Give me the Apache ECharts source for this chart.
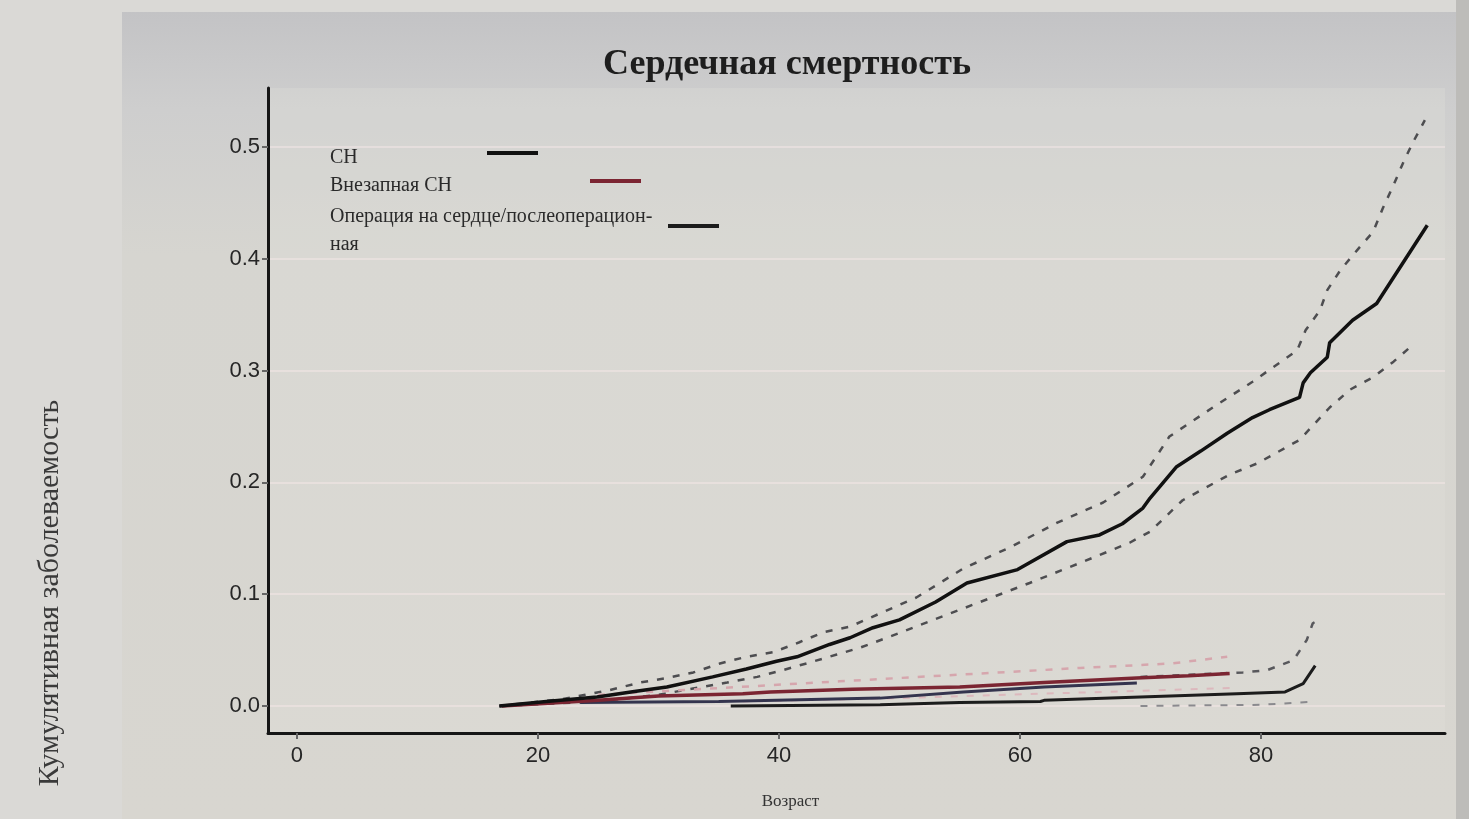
<!DOCTYPE html>
<html>
<head>
<meta charset="utf-8">
<script src="https://cdn.jsdelivr.net/npm/echarts@6/dist/echarts.min.js"></script>
<style>
html,body{margin:0;padding:0;background:#dad9d6;}
#chart{width:1469px;height:819px;}
</style>
</head>
<body>
<div id="chart"></div>
<script>
// ---- data ----
var xTicks = [0, 20, 40, 60, 80];
var yTicks = [0, 0.1, 0.2, 0.3, 0.4, 0.5];

var chAge = [16.8, 20.7, 24.9, 28, 30.7, 34.5, 37.3, 39.8, 41.5, 44.2, 45.9, 47.8, 50.0, 53, 55.6, 59.8, 63.9, 66.6, 68.5, 70.2, 70.8, 73.0, 75, 77.2, 79.3, 80.7, 83.2, 83.5, 84.1, 85.5, 85.7, 87.6, 89.6, 93.8];
var chVal = [0, 0.004, 0.008, 0.013, 0.017, 0.026, 0.033, 0.040, 0.044, 0.055, 0.061, 0.070, 0.077, 0.093, 0.110, 0.122, 0.147, 0.153, 0.163, 0.177, 0.186, 0.214, 0.228, 0.244, 0.258, 0.265, 0.276, 0.289, 0.298, 0.312, 0.325, 0.345, 0.360, 0.430];

var chUpAge = [16.8, 22, 25.9, 28.5, 30.7, 32.9, 35.1, 37.3, 39.5, 41.7, 43.7, 45.9, 51.4, 55.3, 59.2, 63.1, 66.9, 70.2, 72.4, 76.0, 79.3, 81.0, 83.0, 83.7, 84.9, 85.5, 86.6, 88.0, 89.3, 90.1, 91.0, 91.8, 92.6, 93.6];
var chUpVal = [0, 0.006, 0.014, 0.021, 0.025, 0.030, 0.038, 0.044, 0.048, 0.057, 0.066, 0.071, 0.097, 0.123, 0.142, 0.164, 0.182, 0.205, 0.241, 0.267, 0.290, 0.303, 0.318, 0.336, 0.354, 0.372, 0.390, 0.408, 0.424, 0.445, 0.466, 0.486, 0.504, 0.524];

var chLoAge = [16.8, 25, 30, 35.7, 38.2, 40.3, 42.6, 44.8, 46.7, 49.2, 55.0, 60.8, 65.0, 69.1, 70.8, 73.5, 77.4, 79.7, 83.2, 85.7, 87.4, 89.3, 91.0, 92.6];
var chLoVal = [0, 0.004, 0.010, 0.021, 0.026, 0.032, 0.039, 0.046, 0.052, 0.062, 0.086, 0.110, 0.128, 0.146, 0.156, 0.184, 0.207, 0.217, 0.238, 0.267, 0.283, 0.294, 0.308, 0.323];

var suddenAge = [17, 25, 30, 37, 39.3, 46.1, 55.0, 62, 69.7, 74, 77.4];
var suddenVal = [0, 0.005, 0.009, 0.011, 0.0125, 0.015, 0.017, 0.021, 0.025, 0.027, 0.029];
var suddenUpAge = [25, 35, 45, 55, 65, 72.6, 77.2];
var suddenUpVal = [0.010, 0.016, 0.022, 0.028, 0.034, 0.038, 0.044];
var suddenLoAge = [37, 50, 62, 77.4];
var suddenLoVal = [0.004, 0.007, 0.011, 0.016];

var otherAge = [23.5, 35, 48.4, 55.3, 62, 69.7];
var otherVal = [0.003, 0.004, 0.007, 0.0125, 0.017, 0.0206];

var operAge = [36, 48.4, 55, 61.7, 62, 70, 78, 82, 83.5, 84.5];
var operVal = [0, 0.001, 0.003, 0.004, 0.005, 0.008, 0.011, 0.0125, 0.020, 0.036];
var operUpAge = [70, 78.5, 80.5, 82.7, 83.8, 84.3, 84.8];
var operUpVal = [0.026, 0.030, 0.032, 0.041, 0.059, 0.074, 0.077];
var operLoAge = [70, 80, 84.5];
var operLoVal = [0, 0.001, 0.004];

var names = ['СН', 'Внезапная СН', 'Операция на сердце/послеоперацион-\nная'];

function pairs(a, v) { return a.map(function (x, i) { return [x, v[i]]; }); }

var chart = echarts.init(document.getElementById('chart'));
var serif = '"Liberation Serif", "DejaVu Serif", serif';
var sans = '"Liberation Sans Narrow", "Liberation Sans", Arial, sans-serif';

function solid(name, a, v, color, w) {
  return { name: name, type: 'line', data: pairs(a, v), showSymbol: false, symbol: 'none',
    lineStyle: { color: color, width: w }, itemStyle: { color: color }, z: 5, silent: true, animation: false };
}
function dashed(a, v, color, w) {
  return { type: 'line', data: pairs(a, v), showSymbol: false, symbol: 'none',
    lineStyle: { color: color, width: w, type: [7, 9] }, itemStyle: { color: color }, z: 3, silent: true, animation: false };
}
function legendFor(name, top, textWidth) {
  return { data: [name], left: 330, top: top, orient: 'vertical', align: 'right', icon: 'rect',
    itemWidth: 51, itemHeight: 4, padding: 0, selectedMode: false,
    formatter: function (n) { return n.split('\n').map(function (s) { return '{a|' + s + '}'; }).join('\n'); },
    textStyle: { fontFamily: serif, fontSize: 20, color: '#2a2a2a',
      rich: { a: { width: textWidth, align: 'left', fontFamily: serif, fontSize: 20, color: '#2a2a2a', lineHeight: 28, padding: [10, 0, 0, 0] } } } };
}

chart.setOption({
  backgroundColor: '#dad9d6',
  animation: false,
  graphic: [
    { type: 'rect', shape: { x: 122, y: 12, width: 1336, height: 807 }, z: -10,
      style: { fill: new echarts.graphic.LinearGradient(0, 0, 0, 1, [
        { offset: 0, color: '#c3c3c5' }, { offset: 0.12, color: '#cecece' }, { offset: 0.3, color: '#d6d5d0' }, { offset: 1, color: '#d8d6d0' }]) } },
    { type: 'rect', shape: { x: 1456, y: 0, width: 13, height: 819 }, z: -9, style: { fill: '#bdbcb9' } },
    { type: 'text', x: 50, y: 593, rotation: Math.PI / 2, z: 10,
      style: { text: 'Кумулятивная заболеваемость', fontFamily: serif, fontSize: 30, fill: '#3a3a3a', align: 'center', verticalAlign: 'middle' } }
  ],
  title: { text: 'Сердечная смертность', left: 598, top: 42,
    textStyle: { fontFamily: serif, fontSize: 36, fontWeight: 'bold', color: '#1e1e1e' } },
  legend: [
    legendFor(names[0], 138, 152),
    legendFor(names[1], 166, 255),
    legendFor(names[2], 197, 333)
  ],
  grid: { left: 268, top: 88, width: 1177, height: 645, containLabel: false, show: true, backgroundColor: 'rgba(226,224,218,0.3)', borderWidth: 0 },
  xAxis: {
    type: 'value', min: -2.4, max: 95.27,
    name: 'Возраст', nameLocation: 'middle', nameGap: 60,
    nameTextStyle: { fontFamily: serif, fontSize: 17, color: '#333', padding: [0, 132, 0, 0] },
    axisLine: { show: true, onZero: false, lineStyle: { color: '#161616', width: 3 } },
    axisTick: { show: true, customValues: xTicks, length: 6, lineStyle: { color: '#666', width: 2 } },
    axisLabel: { customValues: xTicks, fontFamily: sans, fontSize: 22, color: '#262626', margin: 12 },
    splitLine: { show: false }
  },
  yAxis: {
    type: 'value', min: -0.0242, max: 0.5528,
    axisLine: { show: true, onZero: false, lineStyle: { color: '#161616', width: 3 } },
    axisTick: { show: true, customValues: yTicks, length: 6, lineStyle: { color: '#666', width: 2 } },
    axisLabel: { customValues: yTicks, fontFamily: sans, fontSize: 22, color: '#262626', margin: 8,
      formatter: function (v) { return v.toFixed(1); } },
    splitLine: { show: true, lineStyle: { color: 'rgba(245,232,232,0.5)', width: 2 } }
  },
  series: [
    dashed(chUpAge, chUpVal, '#4d4d50', 2.5),
    dashed(chLoAge, chLoVal, '#4d4d50', 2.5),
    dashed(suddenUpAge, suddenUpVal, '#d6a6ad', 2.5),
    dashed(suddenLoAge, suddenLoVal, '#dcb8bd', 2),
    dashed(operUpAge, operUpVal, '#58585c', 2.5),
    dashed(operLoAge, operLoVal, '#8a8a8e', 2),
    solid('', otherAge, otherVal, '#34344e', 3),
    solid(names[2], operAge, operVal, '#1c1c1c', 3),
    solid(names[1], suddenAge, suddenVal, '#7b2532', 3.5),
    solid(names[0], chAge, chVal, '#111111', 3.5)
  ]
});
</script>
</body>
</html>
